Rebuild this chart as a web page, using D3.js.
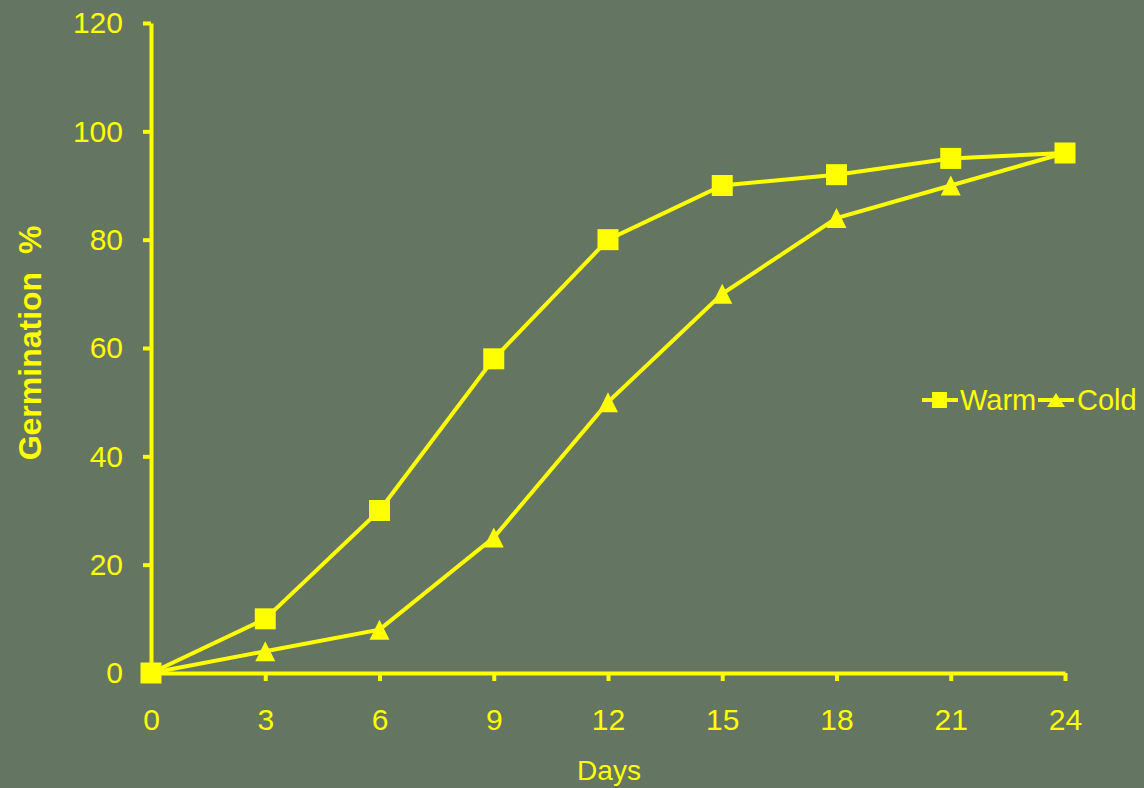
<!DOCTYPE html>
<html>
<head>
<meta charset="utf-8">
<script src="https://cdn.jsdelivr.net/npm/d3@7"></script>
<style>
  html, body { margin: 0; padding: 0; background: #647661; }
  svg { display: block; font-family: "Liberation Sans", Arial, sans-serif; }
</style>
</head>
<body>
<svg id="chart" width="1144" height="788"></svg>
<script>
// Germination over time for warm- and cold-treated seed
const days = [0, 3, 6, 9, 12, 15, 18, 21, 24];
const warm = [0, 10, 30, 58, 80, 90, 92, 95, 96];
const cold = [0, 4, 8, 25, 50, 70, 84, 90, 96];
const yTicks = [0, 20, 40, 60, 80, 100, 120];
const seriesNames = ["Warm", "Cold"];

const yellow = "#ffff00";
const stroke = 4;
const svg = d3.select("#chart");

const x = d3.scaleLinear().domain([0, 24]).range([151, 1065]);
const y = d3.scaleLinear().domain([0, 120]).range([673, 23]);

// Axes
const xAxis = svg.append("g").attr("transform", `translate(0,${y(0)})`)
  .call(d3.axisBottom(x).tickValues(days).tickSize(8).tickPadding(28).tickSizeOuter(0));
const yAxis = svg.append("g").attr("transform", `translate(${x(0)},0)`)
  .call(d3.axisLeft(y).tickValues(yTicks).tickSize(8).tickPadding(20).tickSizeOuter(0));

[xAxis, yAxis].forEach(g => {
  g.select(".domain").attr("stroke", yellow).attr("stroke-width", stroke);
  g.selectAll(".tick line").attr("stroke", yellow).attr("stroke-width", stroke);
  g.selectAll(".tick text").attr("fill", yellow).attr("font-size", 30)
    .attr("font-family", "Liberation Sans, Arial, sans-serif");
});
yAxis.selectAll(".tick text").attr("dy", "0.33em");
xAxis.selectAll(".tick text").attr("dy", "0.71em");

// Axis titles
svg.append("text").attr("x", 609).attr("y", 780)
  .attr("text-anchor", "middle").attr("fill", yellow).attr("font-size", 28)
  .text("Days");
svg.append("text")
  .attr("transform", `translate(41,343) rotate(-90)`)
  .attr("text-anchor", "middle").attr("fill", yellow).attr("font-size", 32)
  .attr("font-weight", "bold").attr("xml:space", "preserve")
  .text("Germination  %");

const line = d3.line().x((d, i) => x(days[i])).y(d => y(d));

// Triangle marker centred on its point: width w, height h
const triPath = (w, h) => `M0,${-h / 2}L${w / 2},${h / 2}L${-w / 2},${h / 2}Z`;
const sq = 21;

// Cold series (drawn first so warm squares sit on top)
svg.append("path").datum(cold).attr("d", line)
  .attr("fill", "none").attr("stroke", yellow).attr("stroke-width", stroke);
svg.append("g").selectAll("path").data(cold).join("path")
  .attr("transform", (d, i) => `translate(${x(days[i])},${y(d)})`)
  .attr("d", triPath(20, 20)).attr("fill", yellow);

// Warm series
svg.append("path").datum(warm).attr("d", line)
  .attr("fill", "none").attr("stroke", yellow).attr("stroke-width", stroke);
svg.append("g").selectAll("rect").data(warm).join("rect")
  .attr("x", (d, i) => x(days[i]) - sq / 2)
  .attr("y", d => y(d) - sq / 2)
  .attr("width", sq).attr("height", sq).attr("fill", yellow);

// Legend
const legend = svg.append("g").attr("transform", "translate(922,400)");
const items = [
  { name: seriesNames[0], x0: 0, text: 38 },
  { name: seriesNames[1], x0: 116, text: 155 }
];
items.forEach((it, k) => {
  legend.append("line").attr("x1", it.x0).attr("x2", it.x0 + 36)
    .attr("y1", 0).attr("y2", 0).attr("stroke", yellow).attr("stroke-width", stroke);
  if (k === 0) {
    legend.append("rect").attr("x", it.x0 + 17 - 7).attr("y", -8)
      .attr("width", 15).attr("height", 16).attr("fill", yellow);
  } else {
    legend.append("path").attr("transform", `translate(${it.x0 + 18},0)`)
      .attr("d", triPath(18, 14)).attr("fill", yellow);
  }
  legend.append("text").attr("x", it.text).attr("y", 0).attr("dy", "0.36em")
    .attr("fill", yellow).attr("font-size", 29).text(it.name);
});
</script>
</body>
</html>
